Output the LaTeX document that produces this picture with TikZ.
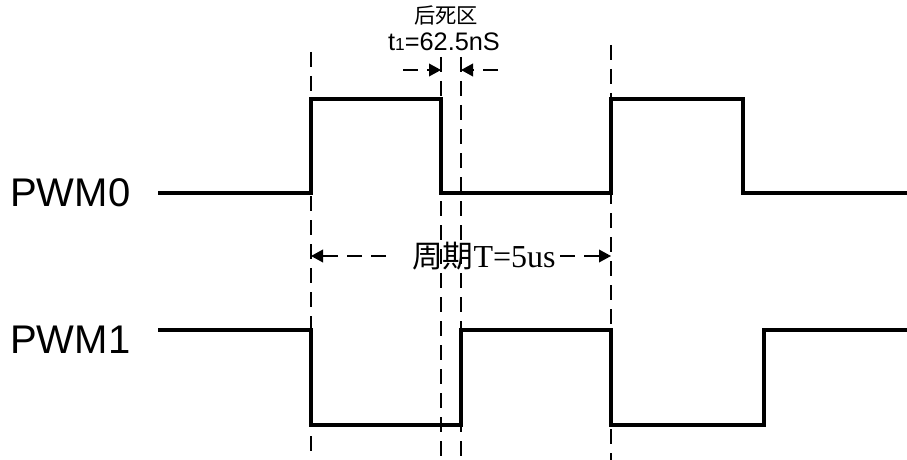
\documentclass[tikz,border=0pt]{standalone}
\usepackage{fontspec}
\setmainfont{Liberation Serif}
\newfontfamily\arialf{Liberation Sans}
\newfontfamily\cjk{Noto Sans CJK SC}
\usetikzlibrary{arrows.meta}
\begin{document}
\begin{tikzpicture}[x=0.75pt,y=-0.75pt,
  wave/.style={line width=2.3pt, line join=miter},
  guide/.style={line width=1.1pt, dash pattern=on 11.25pt off 6.75pt},
  dim/.style={line width=1.1pt, dash pattern=on 11.25pt off 6.75pt,
    -{Triangle[length=9pt,width=9.5pt]}},
  sig/.style={font=\arialf\fontsize{30}{30}\selectfont, inner sep=0pt},
  txt/.style={inner sep=0pt}]
\useasboundingbox (0,0) rectangle (907,460);

% guide lines
\coordinate (g1t) at (311,52);  \coordinate (g1b) at (311,452);
\coordinate (g2t) at (441,57);  \coordinate (g2b) at (441,456);
\coordinate (g3t) at (461,57);  \coordinate (g3b) at (461,456);
\coordinate (g4t) at (611,45);  \coordinate (g4b) at (611,463);
\draw[guide] (g1t) -- (g1b);
\draw[guide] (g2t) -- (g2b);
\draw[guide] (g3t) -- (g3b);
\draw[guide] (g4t) -- (g4b);

% waveforms
\coordinate (p0s) at (158,193);
\coordinate (p0e) at (907,193);
\draw[wave] (p0s) -- (311,193) -- (311,99) -- (441,99) -- (441,193)
  -- (611,193) -- (611,99) -- (743,99) -- (743,193) -- (p0e);
\coordinate (p1s) at (158,330);
\coordinate (p1e) at (907,330);
\draw[wave] (p1s) -- (311,330) -- (311,425) -- (461,425) -- (461,330)
  -- (611,330) -- (611,425) -- (764,425) -- (764,330) -- (p1e);

% signal labels
\node[sig, anchor=base west] (pwm0) at (10,206) {PWM0};
\node[sig, anchor=base west] (pwm1) at (10,353) {PWM1};

% dead time
\node[txt] (dt) at (446,16) {\cjk\fontsize{16}{16}\selectfont 后死区};
\node[txt, anchor=base] (t1) at (444,51)
  {\arialf\fontsize{19}{19}\selectfont t{\fontsize{13}{13}\selectfont 1}=62.5nS};
\coordinate (dl) at (403,70); \coordinate (dla) at (441,70);
\coordinate (dr) at (498,70); \coordinate (dra) at (461,70);
\draw[dim] (dl) -- (dla);
\draw[dim] (dr) -- (dra);

% period
\node[txt] (per) at (484,256) {\fontsize{24}{24}\selectfont{\cjk\fontsize{23}{23}\selectfont 周期}T=5us};
\coordinate (pl) at (386,256); \coordinate (pla) at (311,256);
\coordinate (pr) at (560,256); \coordinate (pra) at (611,256);
\draw[dim] (pl) -- (pla);
\draw[dim] (pr) -- (pra);
\end{tikzpicture}
\end{document}
